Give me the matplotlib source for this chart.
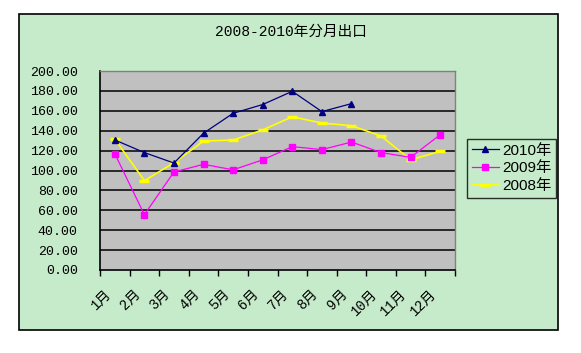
import matplotlib.pyplot as plt
from matplotlib.patches import Rectangle

plt.rcParams['font.family'] = ['Liberation Mono', 'Noto Sans CJK SC']

months = ['1月', '2月', '3月', '4月', '5月', '6月', '7月', '8月', '9月', '10月', '11月', '12月']
y2010 = [130.7, 118.0, 107.5, 137.5, 157.5, 166.3, 179.6, 159.2, 167.2]
y2009 = [116.9, 55.6, 98.5, 106.2, 100.7, 110.7, 124.0, 121.0, 128.6, 118.0, 113.2, 136.0]
y2008 = [131.6, 89.8, 107.8, 129.6, 130.6, 140.8, 154.0, 147.7, 145.0, 134.7, 110.8, 119.2]
yticks = [0, 20, 40, 60, 80, 100, 120, 140, 160, 180, 200]

W, H = 581, 353
fig = plt.figure(figsize=(W / 100, H / 100), dpi=100, facecolor='white')

# outer chart frame
frame = Rectangle((19 / W, 1 - 330 / H), (558 - 19) / W, (330 - 14) / H,
                  transform=fig.transFigure, facecolor='#c6ebca',
                  edgecolor='black', linewidth=1.2, zorder=-10)
fig.add_artist(frame)

ax = fig.add_axes([100 / W, 1 - 270 / H, (455 - 100) / W, (270 - 71) / H], zorder=5)
ax.set_facecolor('#c0c0c0')

x = list(range(len(months)))
ax.plot(x[:len(y2010)], y2010, color='#000080', lw=0.9, marker='^', ms=5, label='2010年', zorder=4)
ax.plot(x, y2009, color='#ff00ff', lw=0.9, marker='s', ms=5, label='2009年', zorder=3)
ax.plot(x, y2008, color='#ffff00', lw=1.2, marker='_', ms=7, mew=2.5, label='2008年', zorder=2)

ax.set_xlim(-0.5, 11.5)
ax.set_ylim(0, 200)
ax.set_yticks(yticks)
ax.set_yticklabels([f'{v:.2f}' for v in yticks], fontsize=9.5)
ax.tick_params(axis='y', length=0, pad=16)
for v in yticks[1:-1]:
    ax.axhline(v, color='black', lw=1.1, zorder=1)

ax.set_xticks([i + 0.5 for i in range(-1, 12)])
ax.set_xticklabels([''] * 13)
ax.tick_params(axis='x', length=4, width=1, direction='out')
for i, m in enumerate(months):
    ax.annotate(m, xy=(i, 0), xycoords='data', xytext=(-8, -12), textcoords='offset points',
                rotation=45, ha='right', va='top', fontsize=10, rotation_mode='anchor',
                annotation_clip=False)

for s in ['top', 'right']:
    ax.spines[s].set_color('#808080')
    ax.spines[s].set_linewidth(1)
for s in ['left', 'bottom']:
    ax.spines[s].set_color('black')
    ax.spines[s].set_linewidth(1.2)

fig.text(291 / W, 1 - 32 / H, '2008-2010年分月出口', ha='center', va='center', fontsize=10.5)

leg = ax.legend(loc='upper left', bbox_to_anchor=((467 - 100) / (455 - 100), (270 - 139) / (270 - 71)),
                frameon=True, fancybox=False, handlelength=1.8,
                prop={'family': ['Liberation Sans', 'Noto Sans CJK SC'], 'size': 11},
                handletextpad=0.2, borderpad=0.3, labelspacing=0.25, borderaxespad=0)
leg.get_frame().set_facecolor('#c6ebca')
leg.get_frame().set_edgecolor('black')
leg.get_frame().set_linewidth(1)

fig.savefig('out.png', dpi=100, facecolor='white')
